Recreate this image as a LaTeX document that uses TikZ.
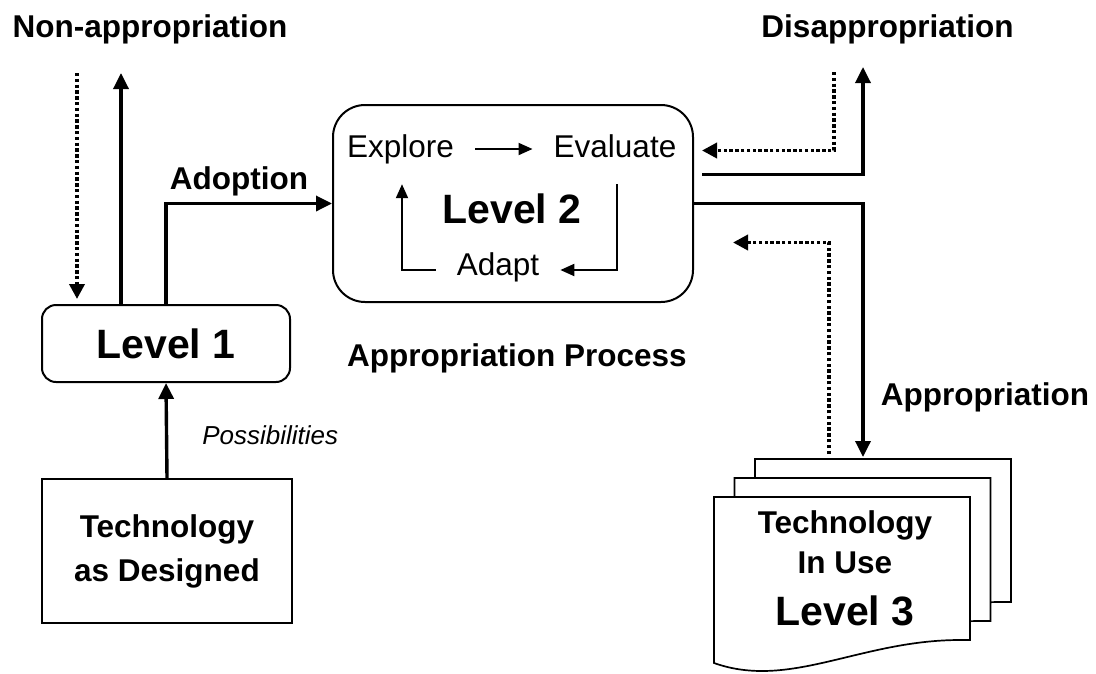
\documentclass[tikz,border=0pt]{standalone}
\usepackage{fontspec}
\setmainfont{Liberation Sans}
\usepackage{tikz}
\usetikzlibrary{arrows.meta,positioning,calc}
\tikzset{
  box/.style={rectangle, draw=black, line width=2pt, fill=white, align=center,
    font=\fontsize{31.5}{44}\selectfont\bfseries, inner sep=0pt},
  level/.style={font=\fontsize{41}{48}\selectfont\bfseries, inner sep=0pt},
  lab/.style={font=\fontsize{31.5}{44}\selectfont\bfseries, inner sep=0pt},
  stepnode/.style={font=\fontsize{31.5}{44}\selectfont, inner sep=0pt,
    text height=22pt, text depth=6pt},
  page/.style={draw=black, line width=1.7pt, fill=white},
  flow/.style={-{Triangle[length=16pt,width=15pt]}, line width=3.4pt},
  back/.style={-{Triangle[length=15pt,width=15pt]}, line width=3.6pt,
    dash pattern=on 3.4pt off 2.4pt},
  cyc/.style={-{Triangle[length=14pt,width=12pt]}, line width=2pt,
    shorten <=21pt, shorten >=21pt},
}

\begin{document}
\begin{tikzpicture}[x=1pt, y=-1pt]
  \useasboundingbox[fill=white] (0,0) rectangle (1096,673);

  % the three levels
  \node[box, rounded corners=14pt, minimum width=248pt, minimum height=77pt,
    font=\fontsize{41}{48}\selectfont\bfseries] (lvlone) at (166,343.5) {Level 1};
  \node[box, minimum width=250pt, minimum height=144pt] (design) at (167,551)
    {Technology\\as Designed};
  \node[box, rounded corners=32pt, minimum width=360pt, minimum height=197pt]
    (lvltwo) at (513,203.5) {};
  \node[level, anchor=base] (lvltwolab) at (512,223) {Level 2};
  \node[stepnode] (explore) at (400.5,149) {Explore};
  \node[stepnode] (evaluate) at (615,149) {Evaluate};
  \node[stepnode] (adapt) at (498,267) {Adapt};

  % stack of pages (technology in use)
  \foreach \dx/\dy in {41/-38, 20.5/-19, 0/0}
    \draw[page, shift={(\dx,\dy)}] (714,497) -- (970,497) -- (970,640) -- (960,640)
      .. controls (860,640) and (790,690) .. (714,663) -- cycle;
  \coordinate (stacktop) at (755,459);
  \node[lab, anchor=base] (usea) at (845,533) {Technology};
  \node[lab, anchor=base] (useb) at (845,573) {In Use};
  \node[level, anchor=base] (usec) at (845,625) {Level 3};

  % outer labels
  \node[lab, anchor=base] (nonapp) at (150,37) {Non-appropriation};
  \node[lab, anchor=base] (disapp) at (887.5,37) {Disappropriation};
  \node[lab, anchor=base] (process) at (517,366) {Appropriation Process};
  \node[lab, anchor=base] (approp) at (985,405) {Appropriation};

  % free ends
  \coordinate (nonapp-in) at (77,73);
  \coordinate (nonapp-out) at (121,73);
  \coordinate (disapp-in) at (834,72);
  \coordinate (disapp-out) at (863,67);
  \coordinate (approp-in) at (863,457);
  \coordinate (approp-out) at (829,454);

  % connectors
  \draw[back, shorten >=5pt] (nonapp-in) -- (nonapp-in |- lvlone.north);
  \draw[flow] (lvlone.north -| nonapp-out) -- (nonapp-out);
  \draw[flow] (lvlone.north) |- (lvltwo.west)
    node[pos=0.72, above=6pt, lab] {Adoption};
  \draw[flow] (design.north) -- (lvlone.south)
    node[pos=0.45, right=34pt, font=\fontsize{26}{30}\selectfont\itshape, inner sep=0pt]
    {Possibilities};
  \draw[flow] ([shift={(8,-29)}]lvltwo.east) -| (disapp-out);
  \draw[back] (disapp-in) |- ([shift={(8,-53)}]lvltwo.east);
  \draw[flow] (lvltwo.east) -| (approp-in);
  \draw[back] (approp-out) |- ([shift={(39,39)}]lvltwo.east);

  % cycle inside level 2
  \draw[cyc] (explore) -- (evaluate);
  \draw[cyc] ([xshift=2pt]evaluate.south) |- ([yshift=-3pt]adapt.east);
  \draw[cyc] ([yshift=-3pt]adapt.west) -| ([xshift=1.5pt]explore.south);
\end{tikzpicture}
\end{document}
